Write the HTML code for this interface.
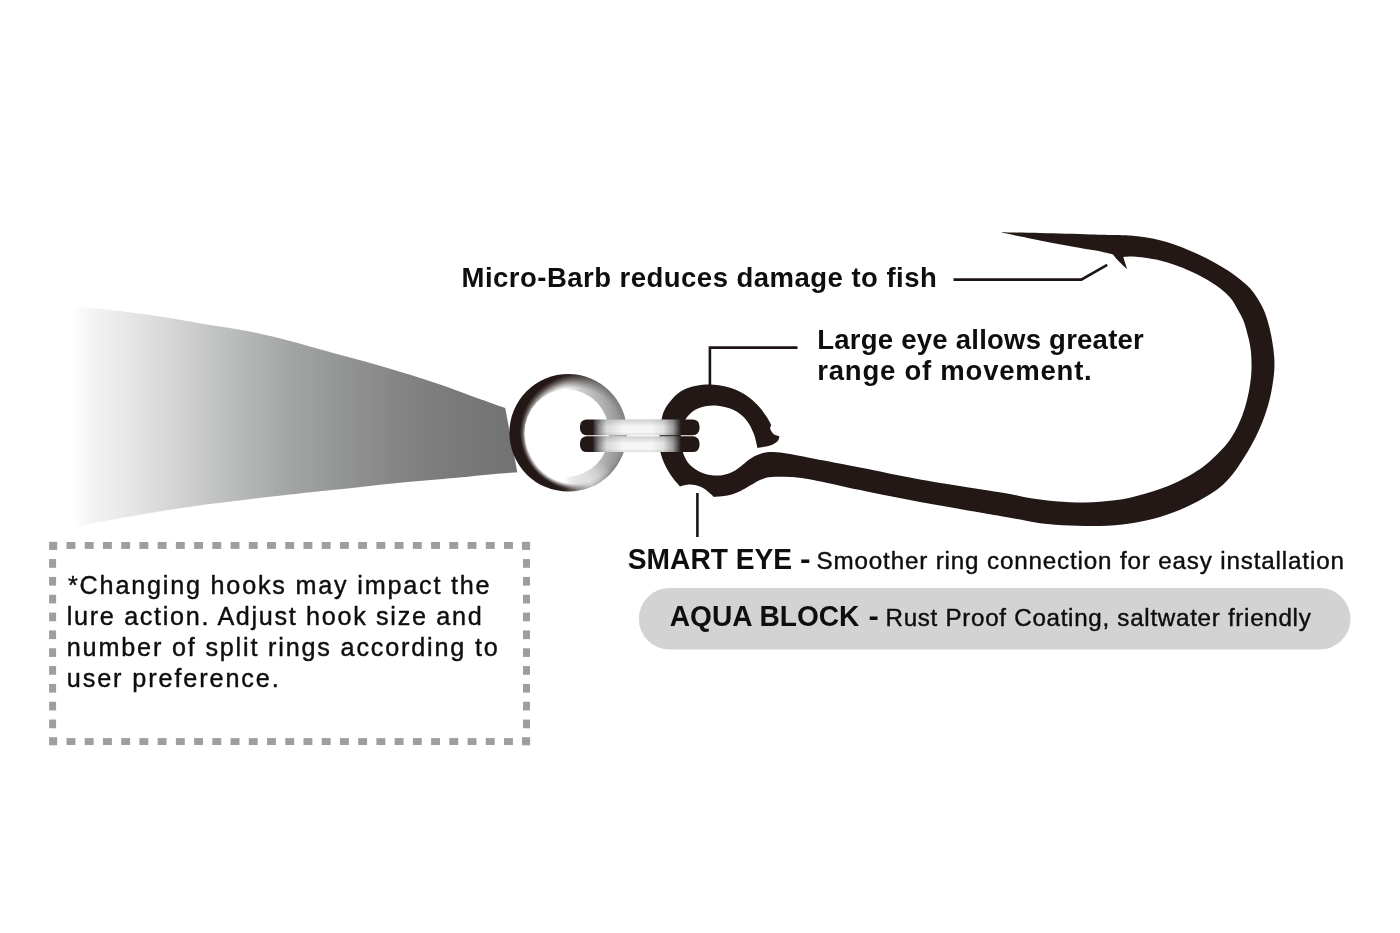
<!DOCTYPE html>
<html lang="en">
<head>
<meta charset="utf-8">
<title>Hook features diagram</title>
<style>
  html, body { margin: 0; padding: 0; background: #ffffff; }
  body { width: 1400px; height: 933px; overflow: hidden; }
  svg { display: block; }
  text { font-family: "Liberation Sans", Arial, sans-serif; fill: #0e0e0e; white-space: pre; }
  text.rg { stroke: #0e0e0e; stroke-width: 0.42px; stroke-linejoin: round; }
</style>
</head>
<body>
<svg width="1400" height="933" viewBox="0 0 1400 933">
  <defs>
    <linearGradient id="lureG" gradientUnits="userSpaceOnUse" x1="66" y1="0" x2="517" y2="0">
      <stop offset="0.013" stop-color="#ffffff"/>
      <stop offset="0.06" stop-color="#f3f3f3"/>
      <stop offset="0.12" stop-color="#eaeaea"/>
      <stop offset="0.22" stop-color="#d8d8d8"/>
      <stop offset="0.32" stop-color="#c4c5c5"/>
      <stop offset="0.42" stop-color="#b1b2b2"/>
      <stop offset="0.505" stop-color="#a2a3a3"/>
      <stop offset="0.623" stop-color="#929393"/>
      <stop offset="0.741" stop-color="#848484"/>
      <stop offset="0.86" stop-color="#7a7a7a"/>
      <stop offset="1" stop-color="#727272"/>
    </linearGradient>
    <radialGradient id="ringG" gradientUnits="userSpaceOnUse" cx="602" cy="433" r="100">
      <stop offset="0" stop-color="#8a8a8a"/>
      <stop offset="0.28" stop-color="#7d7d7d"/>
      <stop offset="0.50" stop-color="#62605f"/>
      <stop offset="0.64" stop-color="#3a3230"/>
      <stop offset="0.72" stop-color="#231815"/>
      <stop offset="1" stop-color="#231815"/>
    </radialGradient>
    <radialGradient id="glowG" gradientUnits="userSpaceOnUse" cx="0" cy="0" r="1" fx="-0.283" fy="0.388" gradientTransform="translate(577.25 432.25) scale(57.25)">
      <stop offset="0" stop-color="#fff" stop-opacity="1"/>
      <stop offset="0.835" stop-color="#fff" stop-opacity="1"/>
      <stop offset="0.89" stop-color="#fff" stop-opacity="0.62"/>
      <stop offset="0.945" stop-color="#fff" stop-opacity="0.24"/>
      <stop offset="1" stop-color="#fff" stop-opacity="0"/>
    </radialGradient>
    <linearGradient id="glowMaskG" gradientUnits="userSpaceOnUse" x1="509" y1="0" x2="627" y2="0">
      <stop offset="0" stop-color="#fff"/>
      <stop offset="0.47" stop-color="#fff"/>
      <stop offset="0.62" stop-color="#a8a8a8"/>
      <stop offset="0.80" stop-color="#666666"/>
      <stop offset="1" stop-color="#0a0a0a"/>
    </linearGradient>
    <mask id="glowMask" maskUnits="userSpaceOnUse" x="500" y="360" width="140" height="140">
      <rect x="500" y="360" width="140" height="140" fill="url(#glowMaskG)"/>
    </mask>
    <radialGradient id="blobG" gradientUnits="userSpaceOnUse" cx="590" cy="484" r="26">
      <stop offset="0" stop-color="#fff" stop-opacity="0.62"/>
      <stop offset="0.5" stop-color="#fff" stop-opacity="0.36"/>
      <stop offset="1" stop-color="#fff" stop-opacity="0"/>
    </radialGradient>
    <clipPath id="ringClip">
      <circle cx="568.2" cy="432.8" r="58.8"/>
    </clipPath>
    <linearGradient id="barG" gradientUnits="userSpaceOnUse" x1="580" y1="0" x2="699.5" y2="0">
      <stop offset="0" stop-color="#231815"/>
      <stop offset="0.105" stop-color="#231815"/>
      <stop offset="0.16" stop-color="#8c8c8c"/>
      <stop offset="0.22" stop-color="#d9d9d9"/>
      <stop offset="0.36" stop-color="#f6f6f6"/>
      <stop offset="0.60" stop-color="#f6f6f6"/>
      <stop offset="0.70" stop-color="#e0e0e0"/>
      <stop offset="0.78" stop-color="#9a9a9a"/>
      <stop offset="0.845" stop-color="#231815"/>
      <stop offset="1" stop-color="#231815"/>
    </linearGradient>
    <linearGradient id="barV" x1="0" y1="0" x2="0" y2="1">
      <stop offset="0" stop-color="#000" stop-opacity="0.16"/>
      <stop offset="0.45" stop-color="#000" stop-opacity="0"/>
      <stop offset="0.8" stop-color="#000" stop-opacity="0"/>
      <stop offset="1" stop-color="#000" stop-opacity="0.10"/>
    </linearGradient>
  </defs>

  <rect width="1400" height="933" fill="#ffffff"/>

  <!-- lure body -->
  <path d="M62.00 305.90 C64.17 306.03 67.83 306.14 75.00 306.70 C82.17 307.26 95.00 308.20 105.00 309.25 C115.00 310.30 125.00 311.68 135.00 313.00 C145.00 314.32 155.00 315.62 165.00 317.20 C175.00 318.78 185.00 320.82 195.00 322.50 C205.00 324.18 215.00 325.58 225.00 327.25 C235.00 328.92 244.17 330.21 255.00 332.50 C265.83 334.79 279.17 338.21 290.00 341.00 C300.83 343.79 310.00 346.50 320.00 349.25 C330.00 352.00 340.00 354.75 350.00 357.50 C360.00 360.25 370.00 362.88 380.00 365.75 C390.00 368.62 400.00 371.62 410.00 374.75 C420.00 377.88 430.00 381.06 440.00 384.50 C450.00 387.94 459.13 391.50 470.00 395.40 C480.87 399.30 499.33 405.82 505.20 407.90 L517.30 472.20 C509.42 472.92 482.88 475.33 470.00 476.50 C457.12 477.67 450.00 478.32 440.00 479.20 C430.00 480.07 420.00 480.82 410.00 481.75 C400.00 482.68 390.00 483.68 380.00 484.75 C370.00 485.82 360.00 487.12 350.00 488.20 C340.00 489.27 330.00 490.15 320.00 491.20 C310.00 492.25 300.83 493.28 290.00 494.50 C279.17 495.72 265.83 497.21 255.00 498.50 C244.17 499.79 235.00 501.00 225.00 502.25 C215.00 503.50 205.00 504.62 195.00 506.00 C185.00 507.38 175.00 508.88 165.00 510.50 C155.00 512.12 145.00 514.00 135.00 515.75 C125.00 517.50 115.00 519.12 105.00 521.00 C95.00 522.88 82.17 525.53 75.00 527.00 C67.83 528.47 64.17 529.33 62.00 529.80 Z" fill="url(#lureG)"/>

  <!-- split ring -->
  <g clip-path="url(#ringClip)">
    <rect x="505" y="370" width="126" height="126" fill="url(#ringG)"/>
    <rect x="505" y="370" width="126" height="126" fill="url(#glowG)" mask="url(#glowMask)"/>
    <circle cx="590" cy="484" r="26" fill="url(#blobG)"/>
    <ellipse cx="566.8" cy="433.2" rx="42.3" ry="43.7" fill="#ffffff"/>
  </g>

  <!-- hook -->
  <path d="M1000.60 232.30 C1007.17 232.43 1025.10 232.75 1040.00 233.10 C1054.90 233.45 1077.50 234.08 1090.00 234.40 C1102.50 234.72 1108.33 234.82 1115.00 235.00 C1121.67 235.18 1125.00 235.12 1130.00 235.50 C1135.00 235.88 1140.00 236.46 1145.00 237.25 C1150.00 238.04 1155.00 239.00 1160.00 240.25 C1165.00 241.50 1170.00 243.00 1175.00 244.75 C1180.00 246.50 1185.00 248.62 1190.00 250.75 C1195.00 252.88 1200.00 255.00 1205.00 257.50 C1210.00 260.00 1215.00 262.75 1220.00 265.75 C1225.00 268.75 1230.00 271.75 1235.00 275.50 C1240.00 279.25 1246.00 284.00 1250.00 288.25 C1254.00 292.50 1256.50 296.88 1259.00 301.00 C1261.50 305.12 1263.25 308.50 1265.00 313.00 C1266.75 317.50 1268.25 323.00 1269.50 328.00 C1270.75 333.00 1271.72 338.17 1272.50 343.00 C1273.28 347.83 1273.90 352.50 1274.20 357.00 C1274.50 361.50 1274.58 365.33 1274.30 370.00 C1274.02 374.67 1273.30 380.00 1272.50 385.00 C1271.70 390.00 1270.75 395.00 1269.50 400.00 C1268.25 405.00 1266.75 410.00 1265.00 415.00 C1263.25 420.00 1261.25 425.00 1259.00 430.00 C1256.75 435.00 1254.25 440.00 1251.50 445.00 C1248.75 450.00 1245.75 455.00 1242.50 460.00 C1239.25 465.00 1235.75 470.45 1232.00 475.00 C1228.25 479.55 1224.50 483.59 1220.00 487.30 C1215.50 491.01 1210.00 494.25 1205.00 497.25 C1200.00 500.25 1195.00 502.88 1190.00 505.30 C1185.00 507.73 1180.00 509.87 1175.00 511.80 C1170.00 513.73 1165.00 515.42 1160.00 516.90 C1155.00 518.38 1150.00 519.55 1145.00 520.65 C1140.00 521.75 1135.00 522.74 1130.00 523.50 C1125.00 524.26 1120.00 524.80 1115.00 525.20 C1110.00 525.60 1105.00 525.76 1100.00 525.90 C1095.00 526.04 1090.00 526.13 1085.00 526.05 C1080.00 525.98 1075.00 525.68 1070.00 525.45 C1065.00 525.23 1060.00 525.08 1055.00 524.70 C1050.00 524.33 1045.00 523.90 1040.00 523.20 C1035.00 522.50 1030.00 521.42 1025.00 520.50 C1020.00 519.58 1017.50 519.03 1010.00 517.70 C1002.50 516.37 995.00 515.12 980.00 512.50 C965.00 509.88 940.00 505.75 920.00 502.00 C900.00 498.25 878.00 493.72 860.00 490.00 C842.00 486.28 823.67 481.87 812.00 479.70 C800.33 477.53 796.79 477.45 790.00 477.00 C783.21 476.55 776.25 476.50 771.25 477.00 C766.25 477.50 763.54 478.57 760.00 480.00 C756.46 481.43 753.33 483.73 750.00 485.60 C746.67 487.48 743.75 489.58 740.00 491.25 C736.25 492.92 731.88 494.66 727.50 495.60 C723.12 496.54 716.04 496.68 713.75 496.90 C712.71 495.96 709.79 492.97 707.50 491.25 C705.21 489.53 702.92 487.71 700.00 486.60 C697.08 485.49 693.33 484.63 690.00 484.60 C686.67 484.57 681.67 486.10 680.00 486.40 C678.75 484.92 675.00 481.07 672.50 477.50 C670.00 473.93 667.00 469.17 665.00 465.00 C663.00 460.83 661.43 456.67 660.50 452.50 C659.57 448.33 659.32 444.92 659.40 440.00 C659.48 435.08 660.07 428.17 661.00 423.00 C661.93 417.83 662.25 413.88 665.00 409.00 C667.75 404.12 672.92 397.48 677.50 393.75 C682.08 390.02 687.08 388.14 692.50 386.60 C697.92 385.06 704.17 384.45 710.00 384.50 C715.83 384.55 721.88 385.36 727.50 386.90 C733.12 388.44 738.75 390.73 743.75 393.75 C748.75 396.77 753.75 401.25 757.50 405.00 C761.25 408.75 763.96 412.92 766.25 416.25 C768.54 419.58 770.42 423.54 771.25 425.00 C771.08 425.62 769.78 427.22 770.20 428.75 C770.62 430.28 772.22 432.95 773.75 434.20 C775.28 435.45 778.46 435.91 779.40 436.25 C779.08 437.08 779.07 439.69 777.50 441.25 C775.93 442.81 773.33 444.48 770.00 445.60 C766.67 446.73 759.58 447.60 757.50 448.00 C756.88 445.62 755.62 438.42 753.75 433.75 C751.88 429.08 749.58 423.96 746.25 420.00 C742.92 416.04 738.96 412.40 733.75 410.00 C728.54 407.60 720.96 405.85 715.00 405.60 C709.04 405.35 702.58 406.68 698.00 408.50 C693.42 410.32 690.17 413.25 687.50 416.50 C684.83 419.75 683.12 424.08 682.00 428.00 C680.88 431.92 680.55 435.67 680.80 440.00 C681.05 444.33 681.97 449.83 683.50 454.00 C685.03 458.17 686.83 461.83 690.00 465.00 C693.17 468.17 697.92 471.23 702.50 473.00 C707.08 474.77 712.92 475.60 717.50 475.60 C722.08 475.60 726.25 474.45 730.00 473.00 C733.75 471.55 736.67 469.25 740.00 466.90 C743.33 464.55 746.67 461.07 750.00 458.90 C753.33 456.73 756.25 455.05 760.00 453.90 C763.75 452.75 767.50 452.00 772.50 452.00 C777.50 452.00 783.00 452.78 790.00 453.90 C797.00 455.02 802.83 456.43 814.50 458.70 C826.17 460.97 842.42 464.03 860.00 467.50 C877.58 470.97 900.00 475.88 920.00 479.50 C940.00 483.12 965.00 486.83 980.00 489.25 C995.00 491.67 1002.50 492.67 1010.00 494.00 C1017.50 495.33 1020.00 496.33 1025.00 497.25 C1030.00 498.17 1035.00 498.82 1040.00 499.50 C1045.00 500.18 1050.00 500.85 1055.00 501.30 C1060.00 501.75 1065.00 502.00 1070.00 502.20 C1075.00 502.40 1080.00 502.57 1085.00 502.50 C1090.00 502.43 1095.00 502.12 1100.00 501.75 C1105.00 501.38 1110.00 500.93 1115.00 500.25 C1120.00 499.57 1125.00 498.77 1130.00 497.70 C1135.00 496.62 1140.00 495.25 1145.00 493.80 C1150.00 492.35 1155.00 490.80 1160.00 489.00 C1165.00 487.20 1170.00 485.30 1175.00 483.00 C1180.00 480.70 1185.25 477.95 1190.00 475.20 C1194.75 472.45 1199.00 469.95 1203.50 466.50 C1208.00 463.05 1213.00 458.42 1217.00 454.50 C1221.00 450.58 1224.38 447.08 1227.50 443.00 C1230.62 438.92 1233.25 434.67 1235.75 430.00 C1238.25 425.33 1240.62 420.00 1242.50 415.00 C1244.38 410.00 1245.75 405.00 1247.00 400.00 C1248.25 395.00 1249.25 390.00 1250.00 385.00 C1250.75 380.00 1251.30 375.00 1251.50 370.00 C1251.70 365.00 1251.40 358.83 1251.20 355.00 C1251.00 351.17 1250.75 349.83 1250.30 347.00 C1249.85 344.17 1249.55 342.17 1248.50 338.00 C1247.45 333.83 1245.75 326.67 1244.00 322.00 C1242.25 317.33 1240.25 314.00 1238.00 310.00 C1235.75 306.00 1233.50 301.62 1230.50 298.00 C1227.50 294.38 1224.25 291.50 1220.00 288.25 C1215.75 285.00 1210.00 281.38 1205.00 278.50 C1200.00 275.62 1195.00 273.25 1190.00 271.00 C1185.00 268.75 1180.00 266.75 1175.00 265.00 C1170.00 263.25 1165.00 261.70 1160.00 260.50 C1155.00 259.30 1149.50 258.45 1145.00 257.80 C1140.50 257.15 1136.62 256.75 1133.00 256.60 C1129.38 256.45 1124.88 256.85 1123.25 256.90 C1123.58 257.92 1124.56 260.95 1125.20 263.00 C1125.84 265.05 1126.78 268.17 1127.10 269.20 C1125.71 267.88 1121.10 263.72 1118.75 261.25 C1116.40 258.78 1113.96 255.54 1113.00 254.40 C1111.25 253.98 1108.42 253.03 1102.50 251.90 C1096.58 250.77 1085.83 249.08 1077.50 247.60 C1069.17 246.12 1060.83 244.60 1052.50 243.00 C1044.17 241.40 1036.15 239.78 1027.50 238.00 C1018.85 236.22 1005.08 233.25 1000.60 232.30 Z" fill="#231815"/>

  <!-- connector bars -->
  <g>
    <rect x="580" y="419.4" width="119.5" height="15.8" rx="6.5" ry="6.5" fill="url(#barG)"/>
    <rect x="580" y="436.3" width="119.5" height="15.8" rx="6.5" ry="6.5" fill="url(#barG)"/>
    <rect x="597" y="419.4" width="82" height="15.8" fill="url(#barV)"/>
    <rect x="597" y="436.3" width="82" height="15.8" fill="url(#barV)"/>
  </g>

  <!-- leader lines -->
  <g fill="none" stroke="#1c1412" stroke-width="2.6" stroke-linejoin="miter">
    <polyline points="953.5,279.6 1081.3,279.6 1107.2,264.8"/>
    <polyline points="797.5,347.6 709.9,347.6 709.9,386"/>
    <line x1="697.4" y1="493" x2="697.4" y2="537"/>
  </g>

  <!-- dotted note box -->
  <g fill="#9e9e9e"><rect x="49.10" y="541.80" width="8.1" height="8.1"/><rect x="49.10" y="737.20" width="8.1" height="8.1"/><rect x="522.00" y="541.80" width="8.1" height="8.1"/><rect x="522.00" y="737.20" width="8.1" height="8.1"/><rect x="66.50" y="542.00" width="8.9" height="6.9"/><rect x="66.50" y="738.10" width="8.9" height="6.9"/><rect x="84.73" y="542.00" width="8.9" height="6.9"/><rect x="84.73" y="738.10" width="8.9" height="6.9"/><rect x="102.96" y="542.00" width="8.9" height="6.9"/><rect x="102.96" y="738.10" width="8.9" height="6.9"/><rect x="121.19" y="542.00" width="8.9" height="6.9"/><rect x="121.19" y="738.10" width="8.9" height="6.9"/><rect x="139.42" y="542.00" width="8.9" height="6.9"/><rect x="139.42" y="738.10" width="8.9" height="6.9"/><rect x="157.65" y="542.00" width="8.9" height="6.9"/><rect x="157.65" y="738.10" width="8.9" height="6.9"/><rect x="175.88" y="542.00" width="8.9" height="6.9"/><rect x="175.88" y="738.10" width="8.9" height="6.9"/><rect x="194.11" y="542.00" width="8.9" height="6.9"/><rect x="194.11" y="738.10" width="8.9" height="6.9"/><rect x="212.34" y="542.00" width="8.9" height="6.9"/><rect x="212.34" y="738.10" width="8.9" height="6.9"/><rect x="230.57" y="542.00" width="8.9" height="6.9"/><rect x="230.57" y="738.10" width="8.9" height="6.9"/><rect x="248.80" y="542.00" width="8.9" height="6.9"/><rect x="248.80" y="738.10" width="8.9" height="6.9"/><rect x="267.03" y="542.00" width="8.9" height="6.9"/><rect x="267.03" y="738.10" width="8.9" height="6.9"/><rect x="285.26" y="542.00" width="8.9" height="6.9"/><rect x="285.26" y="738.10" width="8.9" height="6.9"/><rect x="303.49" y="542.00" width="8.9" height="6.9"/><rect x="303.49" y="738.10" width="8.9" height="6.9"/><rect x="321.72" y="542.00" width="8.9" height="6.9"/><rect x="321.72" y="738.10" width="8.9" height="6.9"/><rect x="339.95" y="542.00" width="8.9" height="6.9"/><rect x="339.95" y="738.10" width="8.9" height="6.9"/><rect x="358.18" y="542.00" width="8.9" height="6.9"/><rect x="358.18" y="738.10" width="8.9" height="6.9"/><rect x="376.41" y="542.00" width="8.9" height="6.9"/><rect x="376.41" y="738.10" width="8.9" height="6.9"/><rect x="394.64" y="542.00" width="8.9" height="6.9"/><rect x="394.64" y="738.10" width="8.9" height="6.9"/><rect x="412.87" y="542.00" width="8.9" height="6.9"/><rect x="412.87" y="738.10" width="8.9" height="6.9"/><rect x="431.10" y="542.00" width="8.9" height="6.9"/><rect x="431.10" y="738.10" width="8.9" height="6.9"/><rect x="449.33" y="542.00" width="8.9" height="6.9"/><rect x="449.33" y="738.10" width="8.9" height="6.9"/><rect x="467.56" y="542.00" width="8.9" height="6.9"/><rect x="467.56" y="738.10" width="8.9" height="6.9"/><rect x="485.79" y="542.00" width="8.9" height="6.9"/><rect x="485.79" y="738.10" width="8.9" height="6.9"/><rect x="504.02" y="542.00" width="8.9" height="6.9"/><rect x="504.02" y="738.10" width="8.9" height="6.9"/><rect x="49.10" y="559.10" width="7.0" height="8.7"/><rect x="523.00" y="559.10" width="7.0" height="8.7"/><rect x="49.10" y="576.93" width="7.0" height="8.7"/><rect x="523.00" y="576.93" width="7.0" height="8.7"/><rect x="49.10" y="594.76" width="7.0" height="8.7"/><rect x="523.00" y="594.76" width="7.0" height="8.7"/><rect x="49.10" y="612.59" width="7.0" height="8.7"/><rect x="523.00" y="612.59" width="7.0" height="8.7"/><rect x="49.10" y="630.42" width="7.0" height="8.7"/><rect x="523.00" y="630.42" width="7.0" height="8.7"/><rect x="49.10" y="648.25" width="7.0" height="8.7"/><rect x="523.00" y="648.25" width="7.0" height="8.7"/><rect x="49.10" y="666.08" width="7.0" height="8.7"/><rect x="523.00" y="666.08" width="7.0" height="8.7"/><rect x="49.10" y="683.91" width="7.0" height="8.7"/><rect x="523.00" y="683.91" width="7.0" height="8.7"/><rect x="49.10" y="701.74" width="7.0" height="8.7"/><rect x="523.00" y="701.74" width="7.0" height="8.7"/><rect x="49.10" y="719.57" width="7.0" height="8.7"/><rect x="523.00" y="719.57" width="7.0" height="8.7"/></g>

  <!-- aqua block pill -->
  <rect x="638.8" y="588" width="711.7" height="61.5" rx="30.75" ry="30.75" fill="#d3d3d3"/>

  <!-- labels -->
  <g opacity="0.999">
  <text id="t1" x="461.60" y="287.00" font-size="27.50" font-weight="700" letter-spacing="0.475">Micro-Barb reduces damage to fish</text>
<text id="t2" x="817.30" y="348.70" font-size="27.50" font-weight="700" letter-spacing="0.239">Large eye allows greater</text>
<text id="t3" x="817.30" y="380.00" font-size="27.50" font-weight="700" letter-spacing="0.771">range of movement.</text>
<text id="t4" x="627.80" y="568.80" font-size="30.00" font-weight="700" transform="translate(627.80 0) scale(0.9393 1) translate(-627.80 0)">SMART EYE</text>
<text id="t4d" x="800.00" y="568.80" font-size="30.00" font-weight="700" transform="translate(800.00 0) scale(1.0593 1) translate(-800.00 0)">-</text>
<text id="t5" x="816.50" y="568.90" font-size="24.20" class="rg" letter-spacing="0.844">Smoother ring connection for easy installation</text>
<text id="t6" x="669.80" y="625.70" font-size="30.00" font-weight="700" transform="translate(669.80 0) scale(0.9378 1) translate(-669.80 0)">AQUA BLOCK</text>
<text id="t6d" x="868.60" y="625.70" font-size="30.00" font-weight="700" transform="translate(868.60 0) scale(1.0290 1) translate(-868.60 0)">-</text>
<text id="t7" x="885.50" y="625.70" font-size="24.20" class="rg" letter-spacing="0.703">Rust Proof Coating, saltwater friendly</text>
<text id="t8" x="68.00" y="594.20" font-size="25.20" class="rg" letter-spacing="1.793">*Changing hooks may impact the</text>
<text id="t9" x="66.80" y="625.00" font-size="25.20" class="rg" letter-spacing="1.675">lure action. Adjust hook size and</text>
<text id="t10" x="66.80" y="655.70" font-size="25.20" class="rg" letter-spacing="1.818">number of split rings according to</text>
<text id="t11" x="66.80" y="686.80" font-size="25.20" class="rg" letter-spacing="1.900">user preference.</text>
  </g>
</svg>
</body>
</html>
